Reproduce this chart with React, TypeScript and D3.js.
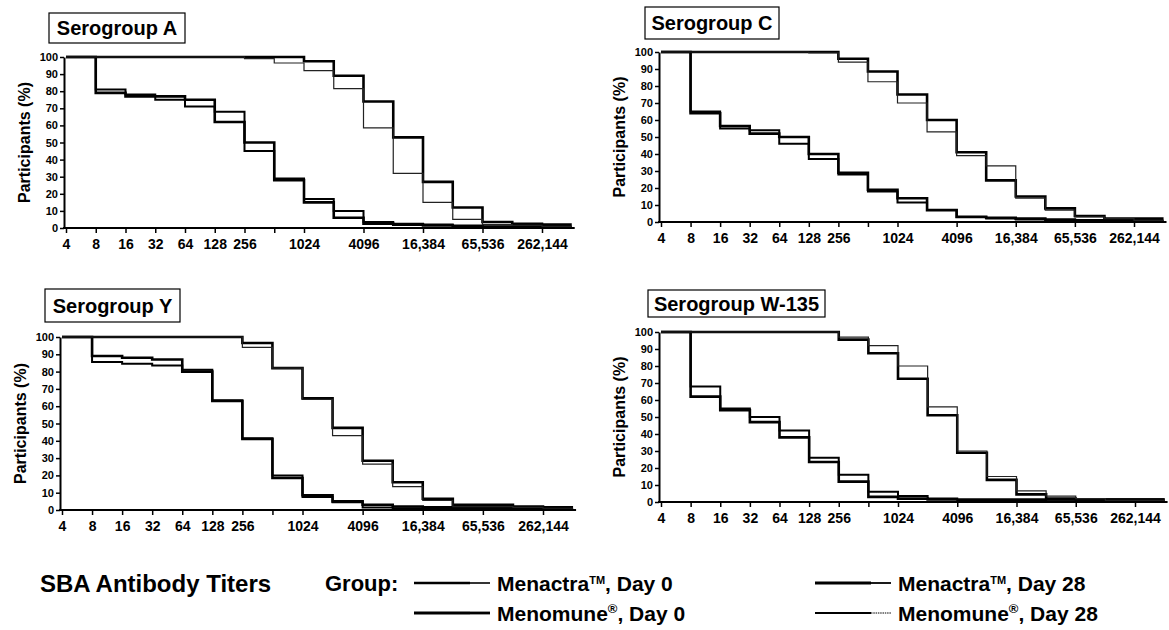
import React, { useEffect, useRef } from 'react';
import * as d3 from 'd3';

// titer levels where each step starts (2^2 .. 2^18)
const titerLevels = [4, 8, 16, 32, 64, 128, 256, 512, 1024, 2048, 4096, 8192, 16384, 32768, 65536, 131072, 262144];
const axisEnd = 524288;

const xTickValues = [4, 8, 16, 32, 64, 128, 256, 512, 1024, 4096, 16384, 65536, 262144];
const xTickLabels = ['4', '8', '16', '32', '64', '128', '256', '', '1024', '4096', '16,384', '65,536', '262,144'];
const yTickValues = [0, 10, 20, 30, 40, 50, 60, 70, 80, 90, 100];

const seriesNames = ['Menactra Day 0', 'Menomune Day 0', 'Menactra Day 28', 'Menomune Day 28'];

// Serogroup A
const aMenactraD0 = [100, 81, 78, 75, 71, 68, 45, 29, 17, 10, 3.5, 2.5, 2, 1.5, 1, 1, 0.5];
const aMenomuneD0 = [100, 79, 77, 77, 75, 62, 50, 28, 15, 6, 2.5, 2, 1.5, 1, 0.5, 0.5, 0.5];
const aMenactraD28 = [100, 100, 100, 100, 100, 100, 100, 100, 97.5, 89, 74, 53, 27, 12, 3.5, 2.5, 2];
const aMenomuneD28 = [100, 100, 100, 100, 100, 100, 99, 96.5, 92, 81.5, 58.5, 32, 15, 5, 2, 1.5, 1];

// Serogroup C
const cMenactraD0 = [100, 65, 55, 54, 46, 37, 28, 18, 11.5, 7, 3, 2, 1.5, 1, 1, 0.5, 0.5];
const cMenomuneD0 = [100, 64, 56.5, 52, 50, 40, 29, 19, 14, 7, 3, 2.5, 2, 1.5, 1, 1, 0.5];
const cMenactraD28 = [100, 100, 100, 100, 100, 100, 96, 88.5, 75, 60, 41, 24.5, 15, 8, 3.5, 2, 2];
const cMenomuneD28 = [100, 100, 100, 100, 100, 99.5, 94, 82.5, 70, 53, 39, 33, 14, 7, 3, 2, 1];

// Serogroup Y
const yMenactraD0 = [100, 85.5, 84.5, 83.5, 81, 63.5, 41.5, 20, 7.5, 4.5, 1.5, 1, 1, 1, 0.5, 0.5, 0.5];
const yMenomuneD0 = [100, 89, 88, 87, 80, 63, 41, 18.5, 8.5, 5, 3, 2, 1.5, 1.5, 1, 1, 0.5];
const yMenactraD28 = [100, 100, 100, 100, 100, 100, 96.5, 82, 64.5, 47.5, 28.5, 16, 6.5, 3, 3, 2, 1.5];
const yMenomuneD28 = [100, 100, 100, 100, 100, 100, 94, 82, 64, 43, 26.5, 13.5, 5.5, 2, 2, 1.5, 1];

// Serogroup W-135
const wMenactraD0 = [100, 68, 55, 50, 42, 26, 16, 6, 3.5, 2, 1, 1, 1, 0.5, 0.5, 0.5, 0.5];
const wMenomuneD0 = [100, 62, 54, 47, 38, 23.5, 12, 3, 2, 1.5, 1.5, 1.5, 1.5, 1.5, 1.5, 1.5, 1.5];
const wMenactraD28 = [100, 100, 100, 100, 100, 100, 95.5, 87.5, 72.5, 51, 29, 13, 4.5, 2, 1.5, 1.5, 1.5];
const wMenomuneD28 = [100, 100, 100, 100, 100, 100, 97, 92, 80, 56, 30, 15, 6.5, 3.5, 2, 1, 1];

const panels = [
  { title: 'Serogroup A', x4: 66, x18: 542, yTop: 57, yBot: 228, box: [49, 13, 136, 30], series: [aMenactraD0, aMenomuneD0, aMenactraD28, aMenomuneD28] },
  { title: 'Serogroup C', x4: 661, x18: 1134, yTop: 52, yBot: 222, box: [645, 7, 134, 32], series: [cMenactraD0, cMenomuneD0, cMenactraD28, cMenomuneD28] },
  { title: 'Serogroup Y', x4: 62, x18: 543, yTop: 337, yBot: 510, box: [45, 289, 135, 33], series: [yMenactraD0, yMenomuneD0, yMenactraD28, yMenomuneD28] },
  { title: 'Serogroup W-135', x4: 661, x18: 1135, yTop: 332, yBot: 502, box: [648, 290, 177, 27], series: [wMenactraD0, wMenomuneD0, wMenactraD28, wMenomuneD28] },
];

const seriesWidth = [2, 2.6, 2.6, 1.2];

const FONT = '"Liberation Sans", Arial, Helvetica, sans-serif';

const App = () => {
  const svgRef = useRef(null);

  useEffect(() => {
    const width = 1169;
    const height = 630;
    const svg = d3.select(svgRef.current);
    svg.selectAll('*').remove();
    svg.attr('width', width).attr('height', height).attr('viewBox', [0, 0, width, height]);

    svg.append('rect').attr('width', width).attr('height', height).attr('fill', '#fff');

    panels.forEach(p => {
      const x = d3.scaleLog().base(2).domain([4, 262144]).range([p.x4, p.x18]);
      const y = d3.scaleLinear().domain([0, 100]).range([p.yBot, p.yTop]);
      const g = svg.append('g');

      // title box
      g.append('rect')
        .attr('x', p.box[0]).attr('y', p.box[1])
        .attr('width', p.box[2]).attr('height', p.box[3])
        .attr('fill', '#fff').attr('stroke', '#000').attr('stroke-width', 1.2);
      g.append('text')
        .attr('x', p.box[0] + p.box[2] / 2)
        .attr('y', p.box[1] + p.box[3] / 2 + 7)
        .attr('text-anchor', 'middle')
        .attr('font-family', FONT).attr('font-weight', 'bold').attr('font-size', 20)
        .text(p.title);

      // step curves
      const line = d3.line()
        .x(d => x(d[0]))
        .y(d => y(d[1]))
        .curve(d3.curveStepAfter);

      p.series.forEach((vals, i) => {
        const pts = vals.map((v, j) => [titerLevels[j], v]);
        pts.push([axisEnd, vals[vals.length - 1]]);
        g.append('path')
          .datum(pts)
          .attr('fill', 'none')
          .attr('stroke', i === 3 ? '#222' : '#000')
          .attr('stroke-width', seriesWidth[i])
          .attr('d', line)
          .append('title').text(seriesNames[i]);
      });

      // y axis
      const yAxis = d3.axisLeft(y).tickValues(yTickValues).tickSize(4).tickSizeOuter(0).tickPadding(2);
      const ya = g.append('g')
        .attr('transform', `translate(${p.x4 - 2},0)`)
        .call(yAxis);
      ya.select('.domain').attr('stroke-width', 2);
      ya.selectAll('.tick line').attr('stroke-width', 1.5);
      ya.selectAll('.tick text')
        .attr('font-family', FONT).attr('font-weight', 'bold').attr('font-size', 11);

      // x axis
      const xAxis = d3.axisBottom(x)
        .tickValues(xTickValues)
        .tickFormat((d, i) => xTickLabels[i])
        .tickSize(5).tickSizeOuter(0).tickPadding(6);
      const xa = g.append('g')
        .attr('transform', `translate(0,${p.yBot})`)
        .call(xAxis);
      xa.select('.domain').remove();
      xa.append('line')
        .attr('x1', p.x4 - 3).attr('x2', x(2 ** 19.1))
        .attr('stroke', '#000').attr('stroke-width', 2);
      xa.selectAll('.tick line').attr('stroke-width', 1.5);
      xa.selectAll('.tick text')
        .attr('font-family', FONT).attr('font-weight', 'bold').attr('font-size', 14);

      // y label
      g.append('text')
        .attr('transform', `translate(${p.x4 - 36},${(p.yTop + p.yBot) / 2}) rotate(-90)`)
        .attr('text-anchor', 'middle')
        .attr('font-family', FONT).attr('font-weight', 'bold').attr('font-size', 16)
        .text('Participants (%)');
    });

    // bottom legend
    svg.append('text')
      .attr('x', 40).attr('y', 592)
      .attr('font-family', FONT).attr('font-weight', 'bold').attr('font-size', 24)
      .text('SBA Antibody Titers');

    svg.append('text')
      .attr('x', 325).attr('y', 591)
      .attr('font-family', FONT).attr('font-weight', 'bold').attr('font-size', 22)
      .text('Group:');

    const legendItems = [
      { x: 414, y: 583, name: 'Menactra', mark: '™', day: 'Day 0', w: 2.6, tail: 1.6 },
      { x: 414, y: 613, name: 'Menomune', mark: '®', day: 'Day 0', w: 2.8, tail: 2.8 },
      { x: 815, y: 583, name: 'Menactra', mark: '™', day: 'Day 28', w: 2.8, tail: 1.8 },
      { x: 815, y: 613, name: 'Menomune', mark: '®', day: 'Day 28', w: 2, tail: 1 },
    ];

    legendItems.forEach((d, i) => {
      svg.append('line')
        .attr('x1', d.x).attr('x2', d.x + 56).attr('y1', d.y).attr('y2', d.y)
        .attr('stroke', '#000').attr('stroke-width', d.w);
      svg.append('line')
        .attr('x1', d.x + 56).attr('x2', d.x + 76).attr('y1', d.y).attr('y2', d.y)
        .attr('stroke', '#000').attr('stroke-width', d.tail)
        .attr('stroke-dasharray', i === 3 ? '1.5,0.8' : null);
      const t = svg.append('text')
        .attr('x', d.x + 83).attr('y', d.y + 8)
        .attr('font-family', FONT).attr('font-weight', 'bold').attr('font-size', 21);
      t.append('tspan').text(d.name);
      if (d.mark === '™') {
        t.append('tspan').attr('font-size', 11).attr('dy', -7).text('TM');
        t.append('tspan').attr('dy', 7).text(', ' + d.day);
      } else {
        t.append('tspan').attr('font-size', 13).attr('dy', -8).text('®');
        t.append('tspan').attr('dy', 8).text(', ' + d.day);
      }
    });
  });

  return (
    <svg ref={svgRef} style={{ position: 'absolute', left: 0, top: 0, display: 'block' }}></svg>
  );
};

export default App;
